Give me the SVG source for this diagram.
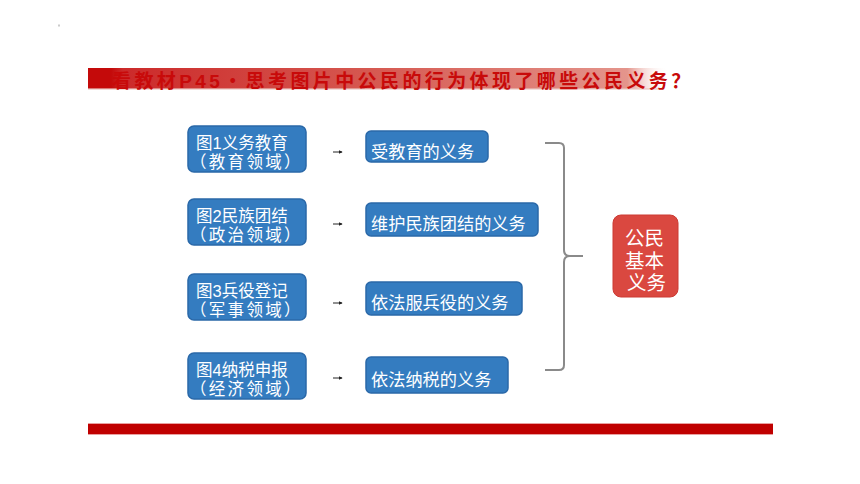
<svg xmlns="http://www.w3.org/2000/svg" width="860" height="484" viewBox="0 0 860 484">
<defs>
<linearGradient id="titleGrad" x1="0" y1="0" x2="1" y2="0">
<stop offset="0" stop-color="#c40a0a"/>
<stop offset="0.04" stop-color="#c40a0a"/>
<stop offset="0.06" stop-color="#cc2a2a"/>
<stop offset="0.5" stop-color="#d65a52"/>
<stop offset="0.93" stop-color="#e4958c"/>
<stop offset="1" stop-color="#ffffff" stop-opacity="0"/>
</linearGradient>
<marker id="arr" viewBox="0 0 6 6" refX="5" refY="3" markerWidth="4" markerHeight="4" orient="auto">
<path d="M0,0 L6,3 L0,6 z" fill="#222"/>
</marker>
<style>
.lbox{fill:#347cc0;stroke:#2a68a8;stroke-width:1.5}
.rbox{fill:#347cc0;stroke:#2a68a8;stroke-width:1.5}
.wt{fill:#ffffff;font-family:"Liberation Sans","Noto Sans CJK SC",sans-serif;font-size:16.5px}
.big{font-size:17.2px}
.sub{letter-spacing:2.3px}
.title{fill:#c80a0a;font-family:"Liberation Sans","Noto Sans CJK SC",sans-serif;font-size:19px;font-weight:bold;letter-spacing:3.4px}
.conn{stroke:#222;stroke-width:1;fill:none}
.brace{stroke:#8a8a8a;stroke-width:2;fill:none}
.red{fill:#da4840;stroke:#cc3a33;stroke-width:1}
.rt{fill:#ffffff;font-family:"Liberation Sans","Noto Sans CJK SC",sans-serif;font-size:19.5px}
</style>
</defs>
<rect x="0" y="0" width="860" height="484" fill="#ffffff"/>
<rect x="58.5" y="24.5" width="1" height="2" fill="#999"/>

<g id="title">
<rect x="88" y="68" width="580" height="21" fill="url(#titleGrad)"/>
<rect x="88" y="88" width="570" height="2" fill="#e8c4c0" opacity="0.6"/>
<text class="title" x="112" y="88">看教材P45・思考图片中公民的行为体现了哪些公民义务？</text>
</g>

<g id="bottom-bar">
<rect x="88" y="423" width="685" height="12" fill="#e9a0a0"/>
<rect x="88" y="424" width="685" height="10" fill="#c00000"/>
</g>

<g id="connectors">
<line class="conn" x1="333" y1="152" x2="342" y2="152" marker-end="url(#arr)"/>
<line class="conn" x1="333" y1="224" x2="342" y2="224" marker-end="url(#arr)"/>
<line class="conn" x1="333" y1="303" x2="342" y2="303" marker-end="url(#arr)"/>
<line class="conn" x1="333" y1="378" x2="342" y2="378" marker-end="url(#arr)"/>
<path class="brace" d="M545,143 L559,143 Q564,143 564,148 L564,250 Q564,256 570,256 L583,256 M570,256 Q564,256 564,262 L564,365 Q564,370 559,370 L545,370"/>
</g>

<g id="n1">
<rect class="lbox" x="188" y="126" width="118" height="46" rx="6"/>
<text class="wt" x="196" y="149">图1义务教育</text>
<text class="wt sub" x="190" y="168">（教育领域）</text>
</g>
<g id="n2">
<rect class="lbox" x="188" y="199" width="118" height="46" rx="6"/>
<text class="wt" x="196" y="222">图2民族团结</text>
<text class="wt sub" x="190" y="241">（政治领域）</text>
</g>
<g id="n3">
<rect class="lbox" x="188" y="274" width="118" height="46" rx="6"/>
<text class="wt" x="196" y="297">图3兵役登记</text>
<text class="wt sub" x="190" y="316">（军事领域）</text>
</g>
<g id="n4">
<rect class="lbox" x="188" y="353" width="118" height="46" rx="6"/>
<text class="wt" x="196" y="376">图4纳税申报</text>
<text class="wt sub" x="190" y="395">（经济领域）</text>
</g>

<g id="r1">
<rect class="rbox" x="366" y="131" width="122" height="31" rx="5"/>
<text class="wt big" x="371" y="158">受教育的义务</text>
</g>
<g id="r2">
<rect class="rbox" x="366" y="203" width="172" height="33" rx="5"/>
<text class="wt big" x="371" y="230">维护民族团结的义务</text>
</g>
<g id="r3">
<rect class="rbox" x="366" y="282" width="156" height="33" rx="5"/>
<text class="wt big" x="371" y="309">依法服兵役的义务</text>
</g>
<g id="r4">
<rect class="rbox" x="366" y="357" width="142" height="36" rx="5"/>
<text class="wt big" x="371" y="386">依法纳税的义务</text>
</g>

<g id="duty">
<rect class="red" x="613" y="215" width="65" height="82" rx="8"/>
<text class="rt" x="625" y="245">公民</text>
<text class="rt" x="625" y="267.5">基本</text>
<text class="rt" x="627" y="290">义务</text>
</g>
</svg>
